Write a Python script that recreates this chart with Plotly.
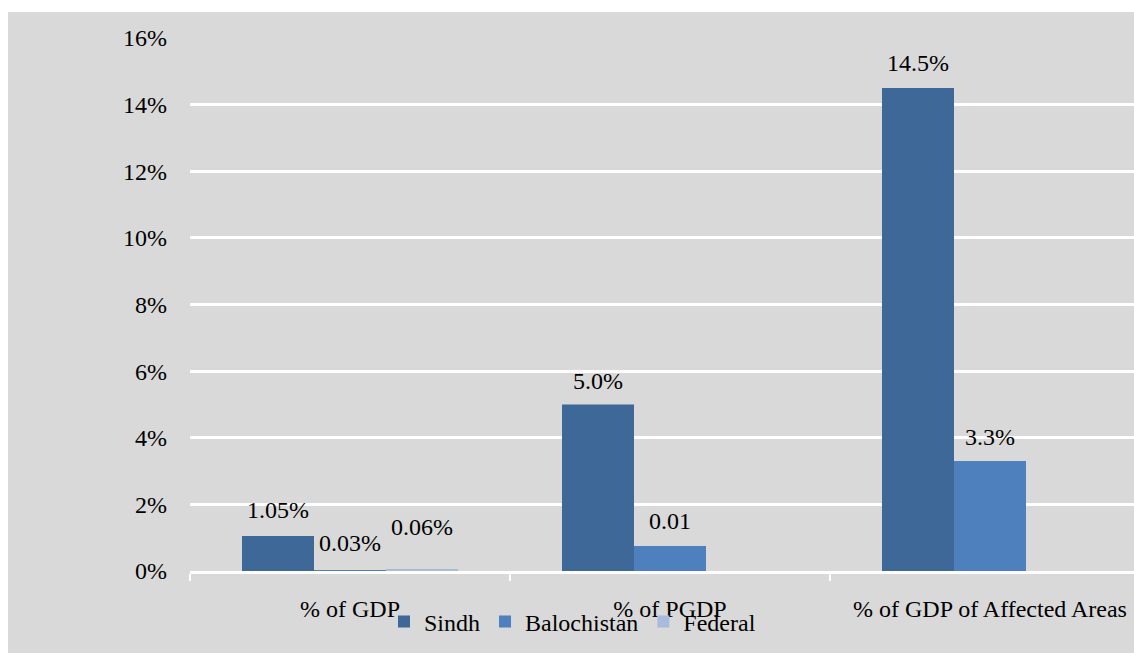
import plotly.graph_objects as go

# Categories and series values (fractions, shown as percentages)
categories = ["% of GDP", "% of PGDP", "% of GDP of Affected Areas"]
sindh = [0.0105, 0.05, 0.145]
balochistan = [0.0003, 0.0075, 0.033]
federal = [0.0006, None, None]

# Number formats used for each data label
sindh_fmt = [".2%", ".1%", ".1%"]
balochistan_fmt = [".2%", ".2f", ".1%"]
federal_fmt = [".2%", None, None]

# Vertical distance (px) of each label above its bar
sindh_lift = [26, 23, 25]
balochistan_lift = [27, 25, 24]
federal_lift = [42, 0, 0]

y_ticks = [0, 0.02, 0.04, 0.06, 0.08, 0.10, 0.12, 0.14, 0.16]

series = [
    ("Sindh", sindh, sindh_fmt, sindh_lift, "#3e6898"),
    ("Balochistan", balochistan, balochistan_fmt, balochistan_lift, "#4d80bc"),
    ("Federal", federal, federal_fmt, federal_lift, "#a9bbdc"),
]

FONT = "Liberation Serif"
BARGAP = 0.325
bar_w = (1 - BARGAP) / len(series)

fig = go.Figure()
annotations = []
for k, (name, vals, fmts, lifts, color) in enumerate(series):
    fig.add_trace(go.Bar(
        name=name, x=categories, y=vals,
        marker=dict(color=color, line=dict(width=0)),
    ))
    offset = (k - (len(series) - 1) / 2) * bar_w
    for i, (v, f, lift) in enumerate(zip(vals, fmts, lifts)):
        if v is None:
            continue
        annotations.append(dict(
            x=i + offset, y=v, xref="x", yref="y",
            text=format(v, f), showarrow=False,
            yanchor="middle", xanchor="center", yshift=lift,
            font=dict(family=FONT, size=24, color="#000000"),
        ))

# Plot area: 190..1134 px horizontally, 38..571 px vertically
L, T, B = 190, 38, 82
W, H = 1134, 653
pw, ph = W - L, H - T - B

fig.update_layout(
    width=W, height=H,
    margin=dict(l=L, r=0, t=T, b=B, pad=0),
    paper_bgcolor="#ffffff",
    plot_bgcolor="#d9d9d9",
    barmode="group", bargap=BARGAP, bargroupgap=0,
    font=dict(family=FONT, size=24, color="#000000"),
    showlegend=True,
    legend=dict(
        orientation="h", x=(384 - L) / pw, xanchor="left",
        y=-(622 - (H - B)) / ph, yanchor="middle",
        bgcolor="rgba(0,0,0,0)", font=dict(family=FONT, size=24),
        itemwidth=30,
    ),
    annotations=annotations,
    shapes=[dict(
        type="rect", xref="paper", yref="paper", layer="below",
        x0=(8 - L) / pw, x1=1.0,
        y0=-B / ph, y1=1 + (T - 12) / ph,
        fillcolor="#d9d9d9", line=dict(width=0),
    )],
)

fig.update_xaxes(
    type="category",
    range=[-0.5, -0.5 + pw / 320],
    showgrid=False, zeroline=False,
    showline=True, linecolor="#ffffff", linewidth=3,
    ticks="outside", tickson="boundaries", ticklen=7,
    tickcolor="#ffffff", tickwidth=2,
    ticklabelstandoff=14,
    tickfont=dict(family=FONT, size=24, color="#000000"),
)
fig.update_yaxes(
    range=[0, 0.16], tickvals=y_ticks, tickformat=".0%",
    showgrid=True, gridcolor="#ffffff", gridwidth=3,
    zeroline=False, showline=False, ticks="",
    ticklabelstandoff=22,
    tickfont=dict(family=FONT, size=24, color="#000000"),
)

fig.write_html("out.html")
